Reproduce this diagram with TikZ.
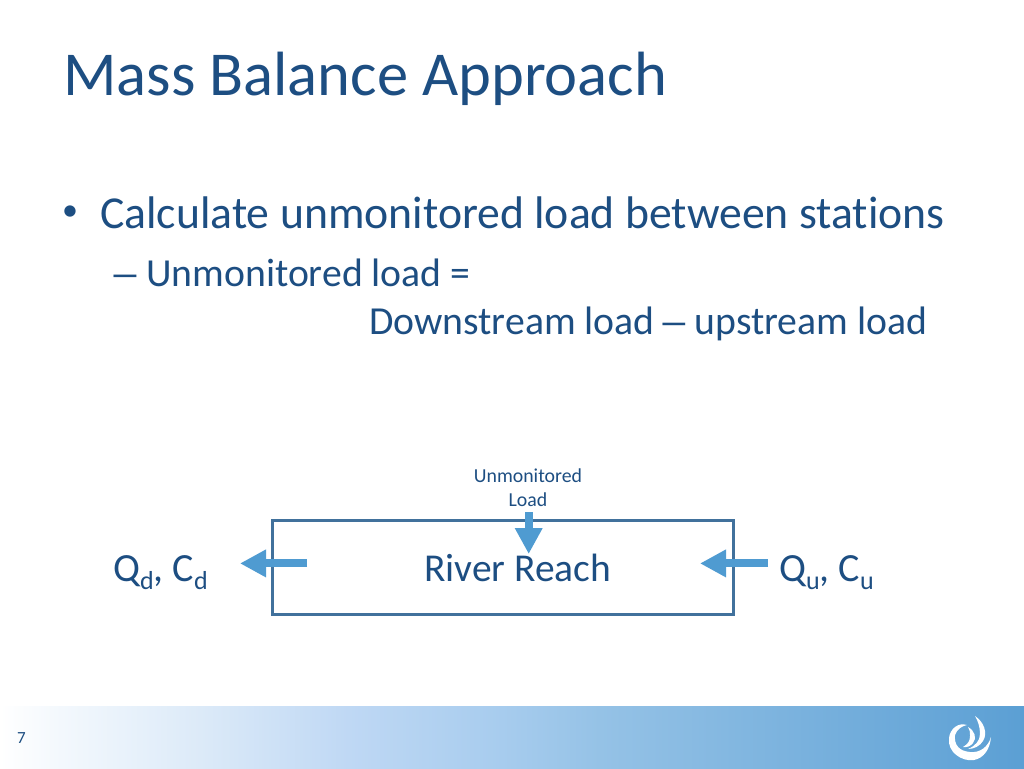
\documentclass[tikz,border=0pt]{standalone}
\usepackage{fontspec}
\usepackage{graphicx}
\setmainfont[Ligatures=NoCommon]{Carlito}
\usetikzlibrary{arrows.meta}
\definecolor{titleblue}{HTML}{1D4E82}
\definecolor{boxblue}{HTML}{41719C}
\definecolor{arrowblue}{HTML}{4F9BD1}
\pgfdeclarehorizontalshading{bandshade}{100bp}{
  rgb(0bp)=(1,1,1);
  rgb(25bp)=(1,1,1);
  rgb(28bp)=(0.953,0.973,0.992);
  rgb(34.75bp)=(0.863,0.918,0.973);
  rgb(42bp)=(0.749,0.847,0.957);
  rgb(49.5bp)=(0.655,0.800,0.933);
  rgb(54.3bp)=(0.584,0.761,0.902);
  rgb(75bp)=(0.357,0.624,0.831);
  rgb(100bp)=(0.357,0.624,0.831)}
\tikzset{
  txt/.style={inner sep=0pt,text=titleblue,anchor=base west},
  flow/.style={draw=arrowblue,line width=8pt,-{Triangle[length=26pt,width=26pt,fill=arrowblue]},shorten >=0pt},
}
\newcommand{\fs}[1]{\fontsize{#1}{#1}\selectfont}
\newcommand{\wdash}{\makebox[0.5em][c]{\raisebox{-1pt}{\scalebox{1.6}[1]{–}}}}
\newcommand{\lowsub}[1]{\raisebox{-8pt}{\fs{26}#1}}
\begin{document}
\begin{tikzpicture}[x=1pt,y=-1pt]
\useasboundingbox (0,0) rectangle (1024,768);
\fill[white] (0,0) rectangle (1024,768);
\shade[shading=bandshade] (0,706.5) rectangle (1024,768);
\node[txt] (title) at (63,95) {\fs{62.5}Mass Balance Approach};
\node[txt] (bul) at (62,220) {\fs{32}•};
\node[txt] (b1) at (100,228) {\fs{45.7}Calculate unmonitored load between stations};
\node[txt] (dash) at (115,286) {\fs{40}\wdash};
\node[txt] (b2) at (146,286) {\fs{39.7}Unmonitored load =};
\node[txt] (b3) at (369,334) {\fs{39.7}Downstream load\hspace{1pt} \wdash{} \hspace{1pt}upstream load};
\node[txt,anchor=base] (um1) at (528,482) {\fs{19.8}Unmonitored};
\node[txt,anchor=base] (um2) at (528,506) {\fs{19.8}Load};
\node[draw=boxblue,line width=3pt,minimum width=461pt,minimum height=94pt,inner sep=0pt,outer sep=0pt] (reach) at (503.4,567.3) {};
\node[txt] (rr) at (424,581) {\fs{39.5}River Reach};
\node[txt] (qd) at (113,581) {\fs{40}Q\lowsub{d}, C\lowsub{d}};
\node[txt] (qu) at (779,581) {\fs{40}Q\lowsub{u}, C\lowsub{u}};
\coordinate (a1s) at (307,563.4); \coordinate (a1e) at (240,563.4);
\coordinate (a2s) at (768,563.4); \coordinate (a2e) at (700,563.4);
\coordinate (a3s) at (528.7,512); \coordinate (a3e) at (528.7,554);
\draw[flow] (a1s) -- (a1e);
\draw[flow] (a2s) -- (a2e);
\draw[flow] (a3s) -- (a3e);
\node[txt] (pg) at (17,743) {\fs{17}7};
% logo
\fill[white] (949,738) .. controls (947,752) and (962,762) .. (974,760) .. controls (984,758) and (990,749) .. (991,737) .. controls (988,747) and (980,753) .. (970,752) .. controls (959,751) and (954,745) .. (955,735) .. controls (957,729) and (962,726) .. (967,725) .. controls (958,722) and (950,729) .. (949,738) -- cycle;
\fill[white] (975,716) .. controls (984,722) and (988,733) .. (983,741) .. controls (980,746) and (974,749) .. (968,749) .. controls (975,746) and (980,741) .. (980,734) .. controls (980,727) and (978,721) .. (975,716) -- cycle;
\fill[white] (968,727) .. controls (975,731) and (977,738) .. (973,743) .. controls (971,746) and (966,748) .. (963,747) .. controls (968,744) and (970,741) .. (970,736) .. controls (970,732) and (970,730) .. (968,727) -- cycle;
\end{tikzpicture}
\end{document}
